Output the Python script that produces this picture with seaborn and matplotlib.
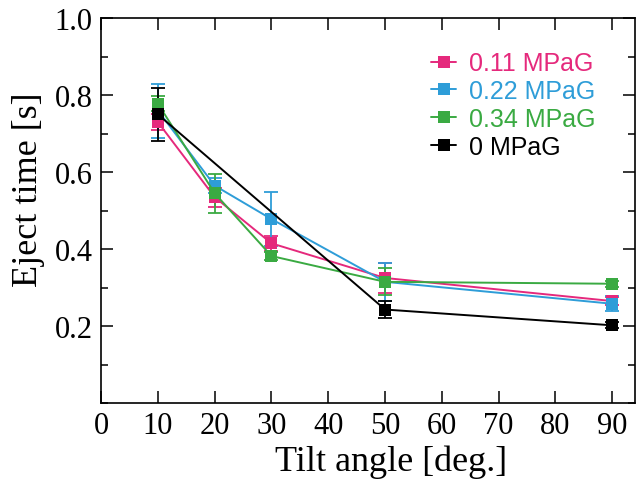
import numpy as np
import pandas as pd
import seaborn as sns
import matplotlib.pyplot as plt
from matplotlib.ticker import MultipleLocator

# values
angles = [10, 20, 30, 50, 90]
angles_0 = [10, 50, 90]

t_011 = [0.730, 0.535, 0.415, 0.325, 0.265]
e_011 = [0.020, 0.025, 0.020, 0.040, 0.010]
t_022 = [0.760, 0.565, 0.478, 0.315, 0.258]
e_022 = [0.070, 0.020, 0.070, 0.050, 0.020]
t_034 = [0.778, 0.545, 0.382, 0.315, 0.310]
e_034 = [0.020, 0.050, 0.010, 0.035, 0.008]
t_0 = [0.750, 0.243, 0.202]
e_0 = [0.070, 0.022, 0.008]

labels = ["0.11 MPaG", "0.22 MPaG", "0.34 MPaG", "0 MPaG"]
colors = ["#E5297C", "#2E9DD8", "#3AAA42", "#000000"]

frames = []
for lab, x, y, e in zip(labels,
                        [angles, angles, angles, angles_0],
                        [t_011, t_022, t_034, t_0],
                        [e_011, e_022, e_034, e_0]):
    frames.append(pd.DataFrame({"angle": x, "time": y, "err": e, "pressure": lab}))
df = pd.concat(frames, ignore_index=True)

sns.set_style("ticks")
plt.rcParams['font.family'] = ['Liberation Serif', 'DejaVu Serif']
plt.rcParams['text.color'] = 'black'
plt.rcParams['axes.labelcolor'] = 'black'
plt.rcParams['xtick.color'] = 'black'
plt.rcParams['ytick.color'] = 'black'
plt.rcParams['axes.edgecolor'] = 'black'

fig = plt.figure(figsize=(6.44, 4.81), dpi=100)
ax = fig.add_axes([0.157, 0.160, 0.829, 0.800])

palette = dict(zip(labels, colors))
# error bars first, so the squares sit on top
for lab in labels:
    d = df[df.pressure == lab]
    ax.errorbar(d.angle, d.time, yerr=d.err, fmt="none", ecolor=palette[lab],
                elinewidth=1.3, capsize=5, capthick=1.3, zorder=2)

sns.lineplot(data=df, x="angle", y="time", hue="pressure", hue_order=labels,
             palette=palette, marker="s", markersize=9, markeredgewidth=0,
             linewidth=1.4, sort=True, estimator=None, ax=ax, zorder=3)

ax.set_xlim(0, 94)
ax.set_ylim(0, 1.0)
ax.xaxis.set_major_locator(MultipleLocator(10))
ax.set_yticks([0.2, 0.4, 0.6, 0.8, 1.0])
ax.yaxis.set_minor_locator(MultipleLocator(0.1))
ax.tick_params(which="both", direction="in", top=True, right=True, width=1.1,
               labelsize=22, pad=6)
ax.tick_params(which="major", length=8.5)
ax.tick_params(which="minor", length=5)
for s in ax.spines.values():
    s.set_linewidth(1.2)

ax.set_xlabel("Tilt angle [deg.]", fontsize=26)
ax.set_ylabel("Eject time [s]", fontsize=26)
ax.xaxis.set_label_coords(0.543, -0.107)
ax.yaxis.set_label_coords(-0.105, 0.558)

leg = ax.legend(loc="upper left", bbox_to_anchor=(0.60, 0.94), frameon=False,
                prop={"family": "Liberation Sans", "size": 18},
                handlelength=1.0, handletextpad=0.5, labelspacing=0.15,
                borderaxespad=0)
for txt, c in zip(leg.get_texts(), colors):
    txt.set_color(c)

fig.savefig("out.png", dpi=100)
